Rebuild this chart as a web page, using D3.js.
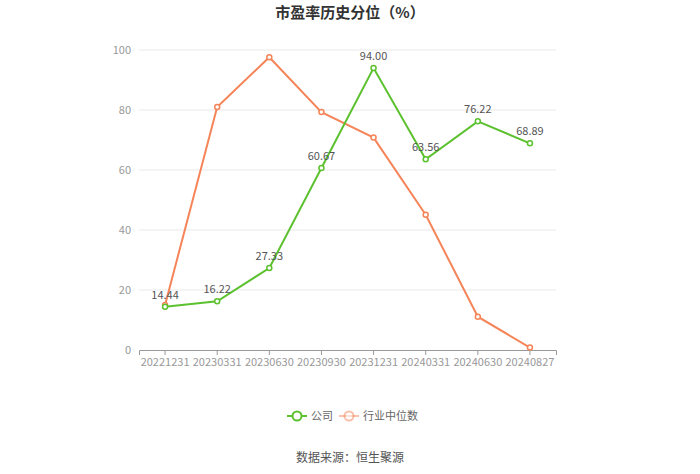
<!DOCTYPE html>
<html><head><meta charset="utf-8">
<script src="https://cdn.jsdelivr.net/npm/d3@7"></script>
<style>body{margin:0;background:#fff;font-family:"Noto Sans CJK SC","Noto Sans",sans-serif;}</style>
</head><body><svg id="c" width="700" height="474"></svg>
<script>
const categories = ["20221231","20230331","20230630","20230930","20231231","20240331","20240630","20240827"];
const companyValues = [14.44,16.22,27.33,60.67,94.00,63.56,76.22,68.89];
const industryValues = [15.0,81.0,97.6,79.3,70.8,45.1,11.1,0.8];
const yTicks = [0,20,40,60,80,100];
const seriesNames = ["公司","行业中位数"];
const colors = ["#5cc12f","#f58559"];

const svg = d3.select("#c");
const m = {l:139, r:556, t:50, b:350};
const x = d3.scaleBand().domain(categories).range([m.l, m.r]);
const y = d3.scaleLinear().domain([0,100]).range([m.b, m.t]);
const font = '"Noto Sans CJK SC","Noto Sans",sans-serif';

svg.append("text").attr("x",350).attr("y",18).attr("text-anchor","middle")
  .attr("font-size",15).attr("font-weight","bold").attr("fill","#333").attr("font-family",font)
  .text("市盈率历史分位（%）");

// grid
svg.append("g").selectAll("line").data(yTicks.filter(d=>d>0)).join("line")
  .attr("x1",m.l).attr("x2",m.r).attr("y1",d=>y(d)).attr("y2",d=>y(d))
  .attr("stroke","#e9e9e9").attr("stroke-width",1);

// y axis labels
const ya = svg.append("g").attr("transform",`translate(${m.l},0)`)
  .call(d3.axisLeft(y).tickValues(yTicks).tickSize(0).tickPadding(8));
ya.select(".domain").remove();
ya.selectAll("text").attr("fill","#999").attr("font-size",11).attr("font-family",font);

// x axis
const xa = svg.append("g").attr("transform",`translate(0,${m.b})`)
  .call(d3.axisBottom(x).tickSizeOuter(0).tickSize(5).tickPadding(3));
xa.select(".domain").attr("stroke","#999");
xa.selectAll(".tick line").attr("stroke","#999");
xa.selectAll("text").attr("fill","#999").attr("font-size",11).attr("font-family",font);

const cx = d => x(d) + x.bandwidth()/2;
const line = d3.line().x((d,i)=>cx(categories[i])).y(d=>y(d));

[industryValues, companyValues].forEach((vals, k) => {
  const col = k===0 ? colors[1] : colors[0];
  svg.append("path").datum(vals).attr("d",line).attr("fill","none")
    .attr("stroke",col).attr("stroke-width",2);
  svg.append("g").selectAll("circle").data(vals).join("circle")
    .attr("cx",(d,i)=>cx(categories[i])).attr("cy",d=>y(d)).attr("r",2.5)
    .attr("fill","#fff").attr("stroke",col).attr("stroke-width",1.5);
});

// labels for company
svg.append("g").selectAll("text").data(companyValues).join("text")
  .attr("x",(d,i)=>cx(categories[i])).attr("y",d=>y(d)-8)
  .attr("text-anchor","middle").attr("font-size",11).attr("fill","#555").attr("font-family",font)
  .text(d=>d.toFixed(2));

// legend
const lg = svg.append("g");
[[297,colors[0],seriesNames[0]],[349,colors[1],seriesNames[1]]].forEach(([lx,col,name],i)=>{
  const op = i===1?0.5:1;
  lg.append("line").attr("x1",lx-10).attr("x2",lx+10).attr("y1",416).attr("y2",416)
    .attr("stroke",col).attr("stroke-width",2).attr("opacity",op);
  lg.append("circle").attr("cx",lx).attr("cy",416).attr("r",4.5).attr("fill","#fff")
    .attr("stroke",col).attr("stroke-width",2).attr("opacity",op);
  lg.append("text").attr("x",lx+14).attr("y",420).attr("font-size",11).attr("fill","#666")
    .attr("font-family",font).text(name);
});

svg.append("text").attr("x",350).attr("y",462).attr("text-anchor","middle")
  .attr("font-size",12).attr("fill","#555").attr("font-family",font).text("数据来源：恒生聚源");
</script></body></html>
